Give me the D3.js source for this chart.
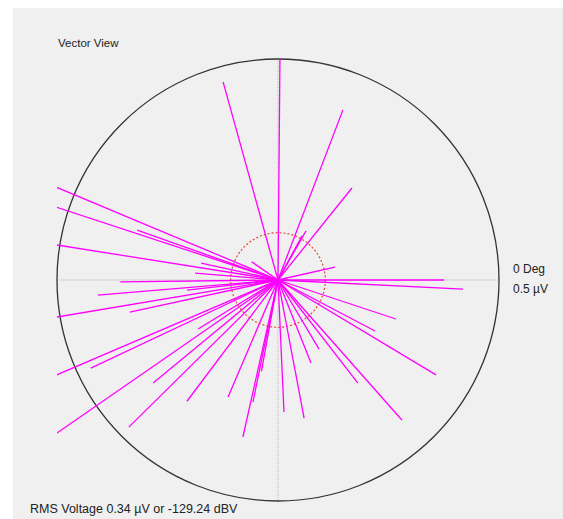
<!DOCTYPE html>
<html>
<head>
<meta charset="utf-8">
<script src="https://cdn.jsdelivr.net/npm/d3@7"></script>
<style>
  html, body { margin: 0; padding: 0; background: #fff; }
  svg { display: block; }
  text { font-family: "Liberation Sans", Arial, sans-serif; fill: #222; }
</style>
</head>
<body>
<div id="chart"></div>
<script>
// vector angles (deg, 0 = right, counter-clockwise) and magnitudes (µV)
const angles = [89.5, 105.5, 69.1, 51.2, 60.3, 61.4, 12.8, 0.0, -2.8,
  157.3, 161.8, 160.5, 171.0, 167.6, 145.3, 175.2, 180.7, 184.8, 186.3,
  189.5, 192.2, 203.2, 205.2, 211.5, 219.5, 214.7, 224.6, 233.1, 246.9,
  258.4, 259.7, 257.4, 341.7, 332.3, 329.0, 300.7, 291.7, 307.8, 311.5,
  272.6, 280.7]
const magnitudes = [0.502, 0.465, 0.412, 0.267, 0.128, 0.114, 0.132, 0.376, 0.419,
  0.56, 0.54, 0.338, 0.53, 0.178, 0.072, 0.188, 0.357, 0.409, 0.207,
  0.53, 0.343, 0.56, 0.468, 0.212, 0.366, 0.63, 0.474, 0.343, 0.288,
  0.282, 0.21, 0.364, 0.281, 0.248, 0.417, 0.182, 0.202, 0.295, 0.423,
  0.299, 0.318]
const fullScale = 0.5      // µV at outer circle
const refLevel = 0.107     // red dashed circle
const title = "Vector View"
const degLabel = "0 Deg"
const scaleLabel = "0.5 \u00b5V"
const rmsLabel = "RMS Voltage 0.34 \u00b5V or -129.24 dBV"

var width = 563,
    height = 519,
    cx = 278,
    cy = 280,
    R = 221;

const r = d3.scaleLinear().domain([0, fullScale]).range([0, R])

var svg = d3.select('#chart')
  .append('svg')
  .attr('width', width)
  .attr('height', height)

svg.append('rect')
  .attr('x', 13).attr('y', 8)
  .attr('width', width - 13).attr('height', height - 8)
  .attr('fill', '#f0f0f0')

svg.append('clipPath').attr('id', 'clip')
  .append('rect')
  .attr('x', cx - R).attr('y', cy - R)
  .attr('width', 2 * R).attr('height', 2 * R)

const g = svg.append('g').attr('transform', `translate(${cx},${cy})`)

// crosshair
g.append('line').attr('x1', -R).attr('x2', R).attr('y1', 0).attr('y2', 0)
  .attr('stroke', '#b8b8b8').attr('stroke-dasharray', '1,1')
g.append('line').attr('x1', 0).attr('x2', 0).attr('y1', -R).attr('y2', R)
  .attr('stroke', '#b8b8b8').attr('stroke-dasharray', '1,1')

// outer circle
g.append('circle').attr('r', r(fullScale))
  .attr('fill', 'none').attr('stroke', '#333').attr('stroke-width', 1.3)

// vectors
const vec = angles.map((a, i) => ({ a: a * Math.PI / 180, m: magnitudes[i] }))

svg.append('g')
  .attr('clip-path', 'url(#clip)')
  .selectAll('line')
  .data(vec)
  .enter()
  .append('line')
  .attr('x1', cx).attr('y1', cy)
  .attr('x2', d => cx + r(d.m) * Math.cos(d.a))
  .attr('y2', d => cy - r(d.m) * Math.sin(d.a))
  .attr('stroke', '#ff00ff')
  .attr('stroke-width', 1.3)

// reference circle
g.append('circle').attr('r', r(refLevel))
  .attr('fill', 'none').attr('stroke', '#e8452c')
  .attr('stroke-width', 1.2).attr('stroke-dasharray', '2,2')

// labels
svg.append('text').attr('x', 58).attr('y', 47)
  .attr('font-size', 11.5).text(title)
svg.append('text').attr('x', 513).attr('y', 273)
  .attr('font-size', 12).text(degLabel)
svg.append('text').attr('x', 513).attr('y', 293)
  .attr('font-size', 12).text(scaleLabel)
svg.append('text').attr('x', 30).attr('y', 513)
  .attr('font-size', 12.5).text(rmsLabel)
</script>
</body>
</html>
